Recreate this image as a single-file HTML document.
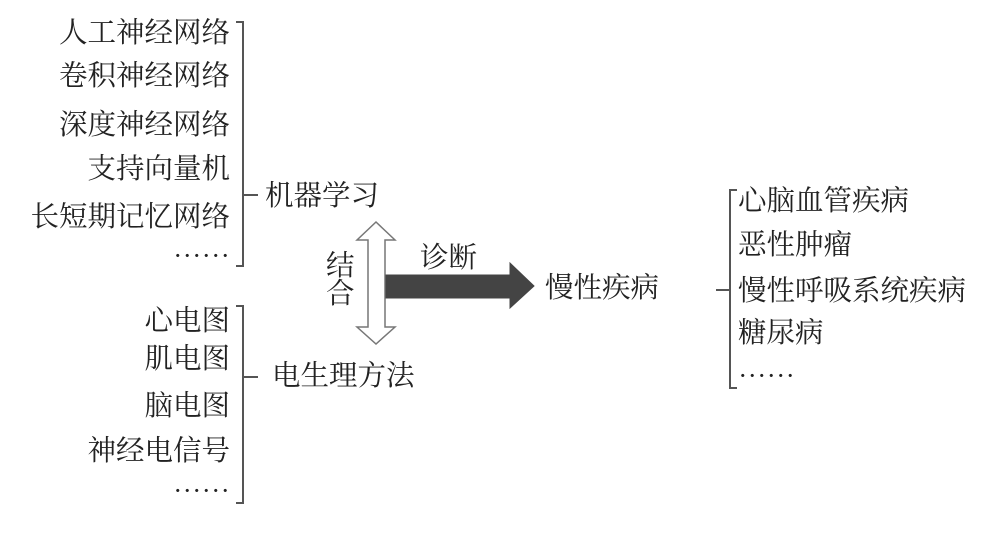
<!DOCTYPE html>
<html><head><meta charset="utf-8"><style>
body{margin:0;background:#fff;}
#c{position:relative;width:984px;height:536px;overflow:hidden;font-family:"Noto Serif CJK SC","Liberation Serif",serif;font-size:28.5px;color:#222;}
.t{position:absolute;line-height:30px;white-space:nowrap;}
.r{text-align:right;width:224px;left:6px;}
</style></head><body><div id="c">
<div class="t r" style="top:16px">人工神经网络</div>
<div class="t r" style="top:59px">卷积神经网络</div>
<div class="t r" style="top:108px">深度神经网络</div>
<div class="t r" style="top:152px">支持向量机</div>
<div class="t r" style="top:200px">长短期记忆网络</div>
<div class="t r" style="top:240px">……</div>
<div class="t" style="left:265px;top:179px">机器学习</div>
<div class="t r" style="top:304px">心电图</div>
<div class="t r" style="top:342px">肌电图</div>
<div class="t r" style="top:389px">脑电图</div>
<div class="t r" style="top:434px">神经电信号</div>
<div class="t r" style="top:475px">……</div>
<div class="t" style="left:272px;top:359px">电生理方法</div>
<div class="t" style="left:326px;top:250px;line-height:28px;width:28px">结<br>合</div>
<div class="t" style="left:420px;top:241px">诊断</div>
<div class="t" style="left:545px;top:271px">慢性疾病</div>
<div class="t" style="left:738px;top:184px">心脑血管疾病</div>
<div class="t" style="left:738px;top:228px">恶性肿瘤</div>
<div class="t" style="left:738px;top:274px">慢性呼吸系统疾病</div>
<div class="t" style="left:738px;top:316px">糖尿病</div>
<div class="t" style="left:738px;top:360px">……</div>
<svg width="984" height="536" style="position:absolute;left:0;top:0" fill="none" stroke="#555" stroke-width="2">
<path d="M236 22H243V266H236M243 195H258"/>
<path d="M236 306H243V503H236M243 377H258"/>
<path d="M737 190H730V388H737M730 290H716"/>
<path d="M376 222L395 240H385V327H395L376 344L357 327H368V240H357Z" fill="#fff" stroke="#777" stroke-width="1.5"/>
<path d="M386 275H510V263L534 286L510 308V298H386Z" fill="#444" stroke="#444" stroke-width="1"/>
</svg>
</div></body></html>
